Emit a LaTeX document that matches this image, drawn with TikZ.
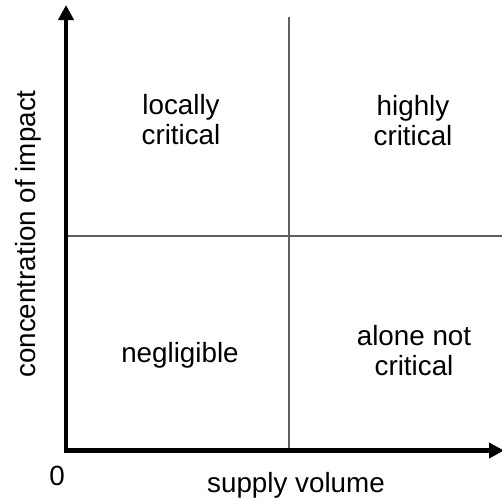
\documentclass[tikz,border=0pt]{standalone}
\usepackage{fontspec}
\setmainfont{Liberation Sans}
\usetikzlibrary{arrows.meta}
\definecolor{gridgray}{RGB}{95,95,95}
\tikzset{
  axis/.style={line width=4.5pt, -{Triangle[width=15pt,length=15pt]}},
  divider/.style={line width=1.5pt, draw=gridgray},
  lbl/.style={inner sep=0pt, anchor=base, align=center, font=\fontsize{27.8}{29.5}\selectfont}
}
\begin{document}
\begin{tikzpicture}[x=1pt,y=-1pt]
\useasboundingbox (0,0) rectangle (502,499);
\coordinate (origin) at (66,450.5);
\coordinate (ytop) at (66,5);
\coordinate (xright) at (504,450.5);
\coordinate (vtop) at (289,17);
\coordinate (vbot) at (289,450);
\coordinate (hleft) at (66,236);
\coordinate (hright) at (502,236);
\draw[divider] (vtop) -- (vbot);
\draw[divider] (hleft) -- (hright);
\draw[axis] ([yshift=-2.25pt]origin) -- (ytop);
\draw[axis] ([xshift=-2.25pt]origin) -- (xright);
\node[lbl] (lc) at (181,144) {locally\\critical};
\node[lbl] (hc) at (413,145) {highly\\critical};
\node[lbl] (ng) at (180,362) {negligible};
\node[lbl] (an) at (414,375) {alone not\\critical};
\node[lbl] (zero) at (57,485) {0};
\node[lbl] (sv) at (296,492) {supply volume};
\node[lbl, rotate=90] (ci) at (35,234) {concentration of impact};
\end{tikzpicture}
\end{document}
